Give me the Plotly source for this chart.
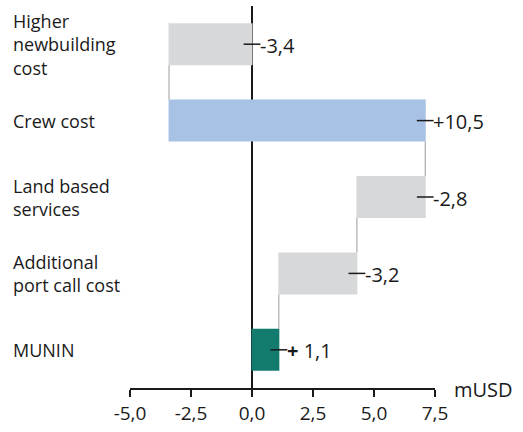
import plotly.graph_objects as go

categories = ["Higher newbuilding cost", "Crew cost", "Land based services",
              "Additional port call cost", "MUNIN"]
label_lines = ["Higher<br>newbuilding<br>cost", "Crew cost", "Land based<br>services",
               "Additional<br>port call cost", "MUNIN"]
values = [-3.4, 10.5, -2.8, -3.2, 1.1]
measures = ["relative", "relative", "relative", "relative", "total"]
value_labels = ["-3,4", "+10,5", "-2,8", "-3,2", "<b>+</b> 1,1"]
tick_vals = [-5.0, -2.5, 0.0, 2.5, 5.0, 7.5]
tick_text = ["-5,0", "-2,5", "0,0", "2,5", "5,0", "7,5"]

FONT = "Open Sans"
TXT = "#1a1a1a"

# right edge of each waterfall bar (for value markers/labels)
right_edges = []
running = 0.0
for v, m in zip(values, measures):
    if m == "total":
        start, end = 0.0, running
    else:
        start, end = running, running + v
        running = end
    right_edges.append(max(start, end))

fig = go.Figure()
fig.add_trace(go.Waterfall(
    orientation="h",
    y=categories,
    x=values,
    measure=measures,
    increasing=dict(marker=dict(color="#a8c2e6")),
    decreasing=dict(marker=dict(color="#d7d8d9")),
    totals=dict(marker=dict(color="#137a6e")),
    connector=dict(mode="between", line=dict(color="#9a9a9a", width=1)),
    showlegend=False,
    hoverinfo="skip",
))
fig.add_trace(go.Scatter(
    x=right_edges,
    y=categories,
    mode="markers",
    marker=dict(symbol="line-ew", size=12, line=dict(color="#1a1a1a", width=1.5)),
    showlegend=False,
    hoverinfo="skip",
    cliponaxis=False,
))

annotations = []
for cat, lab in zip(categories, label_lines):
    annotations.append(dict(
        x=0, xref="paper", xanchor="left", xshift=-119,
        y=cat, yref="y", yanchor="middle",
        text=lab, align="left", showarrow=False,
        font=dict(family=FONT, size=18, color=TXT),
    ))
for cat, xe, lab in zip(categories, right_edges, value_labels):
    annotations.append(dict(
        x=xe, xref="x", xanchor="left", xshift=6,
        y=cat, yref="y", yanchor="middle", yshift=-1,
        text=lab, showarrow=False,
        font=dict(family=FONT, size=20, color=TXT),
    ))
annotations.append(dict(
    x=1, xref="paper", xanchor="left", xshift=17,
    y=0, yref="paper", yanchor="middle", yshift=-1,
    text="mUSD", showarrow=False,
    font=dict(family=FONT, size=20, color=TXT),
))

fig.update_layout(
    width=523, height=432,
    margin=dict(l=130, r=88, t=6, b=41),
    paper_bgcolor="white", plot_bgcolor="white",
    waterfallgap=0.45,
    annotations=annotations,
    xaxis=dict(
        range=[-5, 7.5], tickvals=tick_vals, ticktext=tick_text,
        showgrid=False, zeroline=True, zerolinecolor="#1a1a1a", zerolinewidth=2,
        showline=True, linecolor="#1a1a1a", linewidth=2,
        ticks="outside", ticklen=7, tickwidth=2, tickcolor="#1a1a1a",
        tickfont=dict(family=FONT, size=19, color=TXT),
    ),
    yaxis=dict(
        categoryorder="array", categoryarray=categories,
        range=[4.5, -0.5], showticklabels=False, showgrid=False,
        zeroline=False, showline=False, ticks="",
    ),
)

fig.write_html("out.html",
               config={"displayModeBar": False},
               post_script="document.body.style.margin='0';document.body.style.overflow='hidden';")
